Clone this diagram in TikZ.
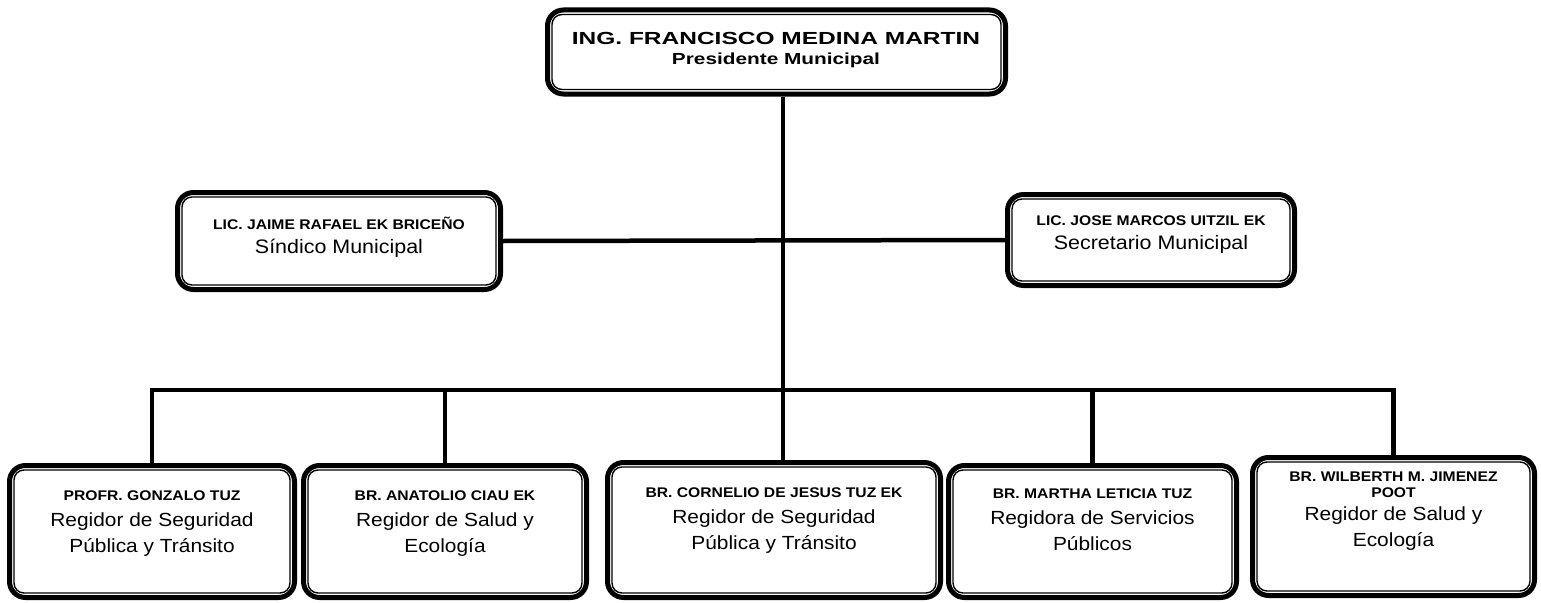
\documentclass[tikz,border=0pt]{standalone}
\usepackage{fontspec}
\setmainfont{Liberation Sans}
\newfontfamily\namefont[FakeStretch=1.12]{Liberation Sans}
\newfontfamily\rolefont[FakeStretch=1.1]{Liberation Sans}
\newfontfamily\topfont[FakeStretch=1.4]{Liberation Sans}
\newfontfamily\subtopfont[FakeStretch=1.3]{Liberation Sans}
\begin{document}
\begin{tikzpicture}[x=1pt,y=-1pt,
  box/.style={draw, line width=5pt, rounded corners=16pt, inner sep=0pt},
  innerline/.style={line width=1.4pt, rounded corners=10pt},
  conn/.style={line width=4.5pt},
  txt/.style={align=center, inner sep=0pt, font=\rolefont\fontsize{19}{26}\selectfont},
  midtxt/.style={align=center, inner sep=0pt, font=\rolefont\fontsize{19.5}{24}\selectfont}
]
\newcommand\nm[1]{{\namefont\bfseries\fontsize{14}{15}\selectfont #1}}
\useasboundingbox (0,0) rectangle (1541,602);

% boxes
\node[box, minimum width=458pt, minimum height=84pt] (top) at (776.5,52) {};
\node[box, minimum width=323pt, minimum height=97pt] (m1) at (339,241) {};
\node[box, minimum width=287pt, minimum height=91pt] (m2) at (1151,240) {};
\node[box, minimum width=285pt, minimum height=132pt] (b1) at (152,531.5) {};
\node[box, minimum width=283pt, minimum height=132pt] (b2) at (445,531.5) {};
\node[box, minimum width=333pt, minimum height=135pt] (b3) at (774,530) {};
\node[box, minimum width=288pt, minimum height=132pt] (b4) at (1092.5,531.5) {};
\node[box, minimum width=282pt, minimum height=138pt] (b5) at (1393.5,526.5) {};

\foreach \n in {top,m1,m2,b1,b2,b3,b4,b5}
  \draw[innerline] ([shift={(7,7)}]\n.north west) rectangle ([shift={(-7,-7)}]\n.south east);

% texts
\node[align=center, inner sep=0pt] (ttop) at (776,50)
  {{\topfont\bfseries\fontsize{17.5}{18}\selectfont ING. FRANCISCO MEDINA MARTIN}\\[8pt]
   {\subtopfont\bfseries\fontsize{16}{18}\selectfont Presidente Municipal}};
\node[midtxt] (tm1) at (339,237) {\nm{LIC. JAIME RAFAEL EK BRICEÑO}\\ Síndico Municipal};
\node[midtxt] (tm2) at (1151,235) {\nm{LIC. JOSE MARCOS UITZIL EK}\\ Secretario Municipal};
\node[txt] (tb1) at (152,524) {\nm{PROFR. GONZALO TUZ}\\ Regidor de Seguridad\\ Pública y Tránsito};
\node[txt] (tb2) at (445,524) {\nm{BR. ANATOLIO CIAU EK}\\ Regidor de Salud y\\ Ecología};
\node[txt] (tb3) at (774,521) {\nm{BR. CORNELIO DE JESUS TUZ EK}\\ Regidor de Seguridad\\ Pública y Tránsito};
\node[txt] (tb4) at (1092.5,520) {\nm{BR. MARTHA LETICIA TUZ}\\ Regidora de Servicios\\ Públicos};
\node[txt] (tb5) at (1393.5,511) {\nm{BR. WILBERTH M. JIMENEZ}\\[-10pt] \nm{POOT}\\[-3pt] Regidor de Salud y\\ Ecología};

% connectors
\coordinate (bus) at (783,390);
\draw[conn] (top.south -| bus) -- (b3.north -| bus);
\draw[conn] (m1.east) -- (m2.west);
\draw[conn] (b1.north) -- (b1.north |- bus) -- (b5.north |- bus) -- (b5.north);
\draw[conn] (b2.north) -- (b2.north |- bus);
\draw[conn] (b4.north) -- (b4.north |- bus);
\end{tikzpicture}
\end{document}
